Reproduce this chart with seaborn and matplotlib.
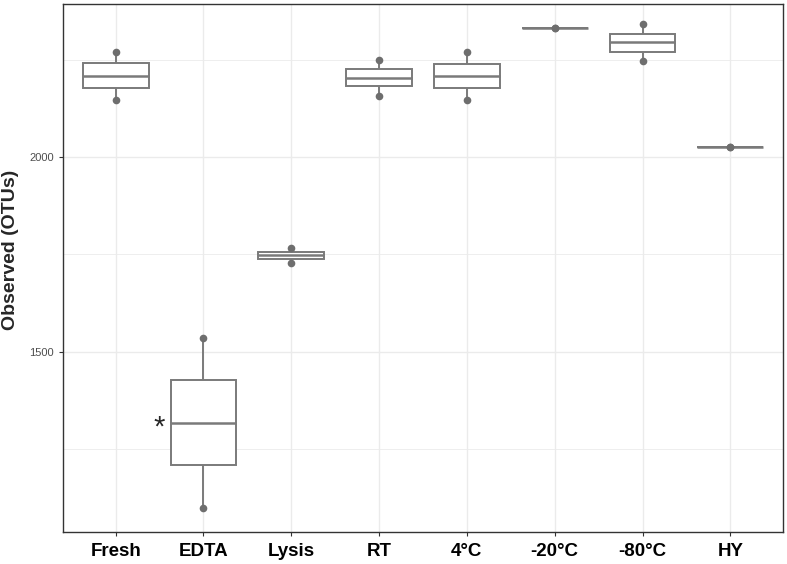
import matplotlib
matplotlib.use("Agg")
import matplotlib.pyplot as plt
import seaborn as sns
import numpy as np
import pandas as pd

groups = ['Fresh', 'EDTA', 'Lysis', 'RT', '4°C', '-20°C', '-80°C', 'HY']
fresh = [2146, 2177, 2208, 2241, 2269]
edta = [1099, 1210, 1317, 1426, 1536]
lysis = [1728, 1737, 1747, 1756, 1767]
rt = [2157, 2181, 2203, 2227, 2249]
c4 = [2147, 2178, 2208, 2240, 2270]
m20 = [2331, 2331, 2331, 2331, 2331]
m80 = [2246, 2270, 2294, 2317, 2341]
hy = [2026, 2026, 2026, 2026, 2026]

values = [fresh, edta, lysis, rt, c4, m20, m80, hy]
df = pd.DataFrame({
    'group': np.repeat(groups, [len(v) for v in values]),
    'otus': np.concatenate(values),
})
df['group'] = pd.Categorical(df['group'], categories=groups, ordered=True)

# the dots at the whisker ends
ends = df.groupby('group', observed=True)['otus'].agg(['min', 'max']).reset_index()
ends = ends.melt(id_vars='group', value_name='otus')

sns.set_style('white')
plt.rcParams['font.family'] = ['Liberation Sans', 'DejaVu Sans']

fig = plt.figure(figsize=(7.87, 5.64), dpi=100)
ax = fig.add_axes([0.080, 0.057, 0.915, 0.936])

box_col = '#7a7a7a'
sns.boxplot(data=df, x='group', y='otus', order=groups, ax=ax,
            color='white', linecolor=box_col, linewidth=1.4, width=0.75,
            whis=np.inf, showfliers=False, showcaps=False,
            medianprops={'color': box_col, 'linewidth': 1.8})
sns.stripplot(data=ends, x='group', y='otus', order=groups, ax=ax,
              jitter=False, color='#6e6e6e', size=5.5, zorder=5)

ax.set_xlim(-0.6, 7.6)
ax.set_ylim(1037, 2393)
ax.set_yticks([1500, 2000])
ax.set_yticks([1250, 1750, 2250], minor=True)
ax.grid(True, which='major', color='#ebebeb', linewidth=1.0)
ax.grid(True, which='minor', axis='y', color='#ebebeb', linewidth=0.6)
ax.set_axisbelow(True)

for s in ax.spines.values():
    s.set_color('#333333')
    s.set_linewidth(1.0)

ax.tick_params(axis='y', which='major', length=3, color='#333333',
               labelsize=8, labelcolor='#4d4d4d', left=True)
ax.tick_params(axis='y', which='minor', length=0)
ax.tick_params(axis='x', length=3, color='#333333', labelsize=13.5,
               labelcolor='black', bottom=True, pad=5)
for lab in ax.get_xticklabels():
    lab.set_fontweight('bold')

ax.set_xlabel('')
ax.set_ylabel('Observed (OTUs)', fontsize=14, fontweight='bold')
ax.yaxis.set_label_coords(-0.061, 0.535)

# significance mark next to EDTA
ax.text(0.49, np.median(edta) - 12, '*', ha='center', va='center', fontsize=21)

plt.savefig('out.png', dpi=100)
